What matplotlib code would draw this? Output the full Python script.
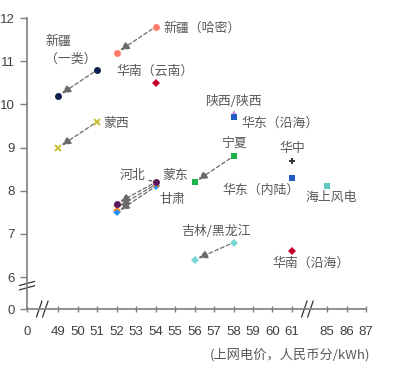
import matplotlib

matplotlib.use("Agg")
import matplotlib.pyplot as plt  # noqa: E402
import numpy as np  # noqa: E402

plt.rcParams["font.family"] = ["Liberation Sans", "Noto Sans CJK SC", "DejaVu Sans"]

# ----- data: each region moves from (price_from, value_from) to (price_to, value_to) -----
names = ["新疆（哈密）", "新疆\n（一类）", "华南（云南）", "蒙西", "甘肃", "蒙东", "河北",
         "宁夏", "陕西/陕西", "华东（沿海）", "华中", "华东（内陆）", "海上风电",
         "吉林/黑龙江", "华南（沿海）"]
price_from = [54, 51, 54, 51, 54, 54, 54, 58, 58, 58, 61, 61, 85, 58, 61]
value_from = [11.8, 10.8, 10.5, 9.6, 8.1, 8.15, 8.2, 8.8, 9.8, 9.7, 8.7, 8.3, 8.1, 6.8, 6.6]
price_to = [52, 49, None, 49, 52, 52, 52, 56, None, None, None, None, None, 56, None]
value_to = [11.2, 10.2, None, 9.0, 7.5, 7.6, 7.7, 8.2, None, None, None, None, None, 6.4, None]

x_ticks = [0, 49, 50, 51, 52, 53, 54, 55, 56, 57, 58, 59, 60, 61, 85, 86, 87]
y_ticks = [0, 6, 7, 8, 9, 10, 11, 12]
x_label = "(上网电价，人民币分/kWh)"

# ----- styles -----
markers = ["o", "o", "D", "x", "D", "x", "o", "s", "^", "s", "+", "s", "s", "D", "D"]
colors = ["#ff7b6b", "#0d1f4f", "#c4002f", "#c9c034", "#1f8fff", "#f08a30", "#5b1a5b",
          "#1db34a", "#d68ad8", "#1f5cc0", "#333333", "#1f5cc0", "#5cc8c0", "#7ad8d4",
          "#c4002f"]
# label anchor (data coords), horizontal alignment, leader line to the point?
label_pos = [(54.4, 11.77), (28.3, 11.62), (52.0, 10.77), (51.3, 9.56), (54.2, 7.81),
             (54.36, 8.35), (53.45, 8.35), (58.0, 9.09), (58.0, 10.07), (58.4, 9.56),
             (61.0, 8.98), (59.4, 8.02), (85.2, 7.84), (57.1, 7.05), (60.0, 6.33)]
label_ha = ["left", "left", "left", "left", "left", "left", "right", "center", "center",
            "left", "center", "center", "center", "center", "left"]
leader = [False, False, False, False, False, False, True, False, False, False, False,
          False, False, True, False]

TEXT = "#595959"
AXIS = "#7f7f7f"

# broken axes: piecewise-linear scales squeeze the gaps 0..49, 61..85 and 0..6
X_DATA = [-10, 0, 49, 61, 85, 87, 100]
X_POS = [-10, 0, 1.6, 13.6, 15.4, 17.4, 30.4]
Y_DATA = [-10, 0, 6, 12, 30]
Y_POS = [-10, 0, 0.74, 6.74, 24.74]


def fwd(a, src, dst):
    return np.interp(a, src, dst)


fig = plt.figure(figsize=(4.0, 3.71), dpi=100)
ax = fig.add_axes([0.0675, 0.167, 0.8475, 0.784])
ax.set_xscale("function", functions=(lambda a: fwd(a, X_DATA, X_POS),
                                     lambda a: fwd(a, X_POS, X_DATA)))
ax.set_yscale("function", functions=(lambda a: fwd(a, Y_DATA, Y_POS),
                                     lambda a: fwd(a, Y_POS, Y_DATA)))
ax.set_xlim(0, 87)
ax.set_ylim(0, 12)

for i, name in enumerate(names):
    ms = 5 if markers[i] in ("o", "s") else 4.5
    mew = 1.4 if markers[i] in ("x", "+") else 0
    if price_to[i] is not None:
        ax.annotate("", xy=(price_to[i], value_to[i]), xytext=(price_from[i], value_from[i]),
                    arrowprops=dict(arrowstyle="-|>,head_length=0.55,head_width=0.25",
                                    ls=(0, (3, 2)), lw=0.9, color="#6a6a6a",
                                    shrinkA=3, shrinkB=3), zorder=2)
        ax.plot([price_to[i]], [value_to[i]], ls="none", marker=markers[i], ms=ms,
                color=colors[i], mew=mew, zorder=3 + i * 0.01, clip_on=False)
    ax.plot([price_from[i]], [value_from[i]], ls="none", marker=markers[i], ms=ms,
            color=colors[i], mew=mew, zorder=3 + i * 0.01, clip_on=False)
    if leader[i]:
        ax.annotate(name, xy=(price_from[i], value_from[i]), xytext=label_pos[i],
                    ha=label_ha[i], va="center", fontsize=9.3, color=TEXT,
                    family=["Noto Sans CJK SC"],
                    arrowprops=dict(arrowstyle="-", lw=0.8, color="#404040",
                                    shrinkA=1, shrinkB=3))
    else:
        va = "top" if "\n" in name else "center"
        ax.text(*label_pos[i], name, ha=label_ha[i], va=va, fontsize=9.3, color=TEXT,
                family=["Noto Sans CJK SC"], linespacing=1.5)

ax.set_xticks(x_ticks)
ax.set_xticklabels([str(t) for t in x_ticks])
ax.set_yticks(y_ticks)
ax.set_yticklabels([str(t) for t in y_ticks])
ax.minorticks_off()
ax.tick_params(axis="x", direction="inout", length=4, width=1, color=AXIS, pad=10,
               labelsize=9.5, labelcolor="#404040")
ax.tick_params(axis="y", direction="out", length=5, width=1, color=AXIS, pad=4,
               labelsize=9.5, labelcolor="#404040")
for side in ("top", "right"):
    ax.spines[side].set_visible(False)
for side in ("left", "bottom"):
    ax.spines[side].set_color(AXIS)
    ax.spines[side].set_linewidth(1.2)

# break marks
for xf in (0.036, 0.054, 0.818, 0.836):
    ax.plot([xf - 0.008, xf + 0.008], [-0.027, 0.027], transform=ax.transAxes,
            color="#333333", lw=0.9, clip_on=False)
for yf in (0.073, 0.088):
    ax.plot([-0.022, 0.022], [yf - 0.007, yf + 0.007], transform=ax.transAxes,
            color="#333333", lw=0.9, clip_on=False)

ax.text(0.776, -0.158, x_label, transform=ax.transAxes, ha="center", va="center",
        fontsize=9.5, color=TEXT, family=["Noto Sans CJK SC"])

fig.savefig("out.png", dpi=100, facecolor="white")
